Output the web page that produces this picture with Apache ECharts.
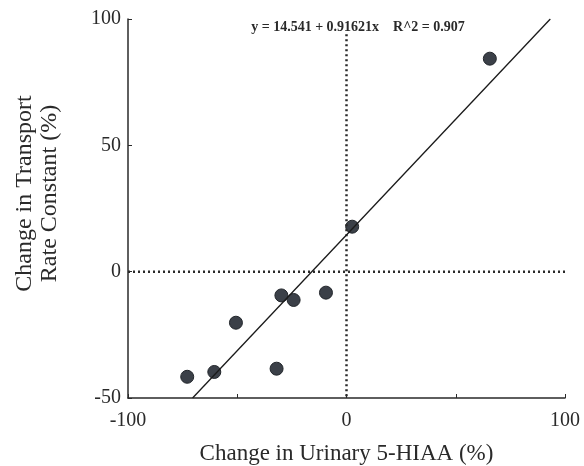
<!DOCTYPE html>
<html>
<head>
<meta charset="utf-8">
<script src="https://cdn.jsdelivr.net/npm/echarts@6/dist/echarts.min.js"></script>
<style>
  html, body { margin: 0; padding: 0; background: #fff; }
  #chart { width: 584px; height: 466px; }
</style>
</head>
<body>
<div id="chart"></div>
<script>
  // data
  var xValues = [65.6, 2.6, -29.8, -24.2, -9.4, -50.6, -60.5, -72.9, -32.0];
  var yValues = [84.3, 17.8, -9.4, -11.2, -8.3, -20.2, -39.7, -41.6, -38.4];
  var fitIntercept = 14.541;
  var fitSlope = 0.91621;
  var fitLabel = 'y = 14.541 + 0.91621x    R^2 = 0.907';
  var xTicks = [-100, 0, 100];
  var yTicks = [-50, 0, 50, 100];

  var points = xValues.map(function (x, i) { return [x, yValues[i]]; });
  // fit line drawn over the y range of the axis
  var yMin = -50, yMax = 100;
  var fitLine = [
    [(yMin - fitIntercept) / fitSlope, yMin],
    [(yMax - fitIntercept) / fitSlope, yMax]
  ];

  var serif = '"Liberation Serif", "DejaVu Serif", serif';
  var ink = '#2a2a2a';

  var chart = echarts.init(document.getElementById('chart'));
  chart.setOption({
    animation: false,
    backgroundColor: '#fff',
    grid: { left: 128, right: 19, top: 19, bottom: 68, outerBoundsMode: 'none', containLabel: false },
    title: {
      text: fitLabel,
      left: 353,
      top: 15,
      textAlign: 'center',
      textStyle: { fontFamily: serif, fontSize: 14, fontWeight: 'bold', color: ink }
    },
    xAxis: {
      type: 'value',
      min: -100, max: 100, interval: 50,
      name: 'Change in Urinary 5-HIAA (%)',
      nameLocation: 'middle',
      nameGap: 44,
      nameTextStyle: { fontFamily: serif, fontSize: 23, color: ink },
      axisLine: { onZero: false, lineStyle: { color: ink, width: 1.5 } },
      axisTick: { inside: true, length: 4, lineStyle: { color: ink } },
      splitLine: { show: false },
      axisLabel: {
        fontFamily: serif, fontSize: 20, color: ink, margin: 13,
        formatter: function (v) { return xTicks.indexOf(v) >= 0 ? String(v) : ''; }
      }
    },
    yAxis: {
      type: 'value',
      min: -50, max: 100, interval: 50,
      name: 'Change in Transport\nRate Constant (%)',
      nameLocation: 'middle',
      nameGap: 66,
      nameTextStyle: { fontFamily: serif, fontSize: 24, color: ink, lineHeight: 25, padding: [0, 0, 0, 30] },
      axisLine: { show: true, onZero: false, lineStyle: { color: ink, width: 1.5 } },
      axisTick: { inside: true, length: 4, lineStyle: { color: ink } },
      splitLine: { show: false },
      axisLabel: {
        fontFamily: serif, fontSize: 20, color: ink, margin: 7,
        formatter: function (v) { return yTicks.indexOf(v) >= 0 ? String(v) : ''; }
      }
    },
    series: [
      {
        type: 'line',
        data: [[0, 94], [0, -50]],
        symbol: 'none',
        lineStyle: { color: ink, width: 2.5, type: [2, 3] },
        silent: true
      },
      {
        type: 'line',
        data: [[-100, 0], [109, 0]],
        clip: false,
        symbol: 'none',
        lineStyle: { color: ink, width: 2.5, type: [2, 3] },
        silent: true
      },
      {
        type: 'line',
        data: fitLine,
        symbol: 'none',
        lineStyle: { color: '#1a1a1a', width: 1.3 },
        silent: true
      },
      {
        type: 'scatter',
        data: points,
        symbolSize: 13,
        itemStyle: { color: '#3b4048', borderColor: '#22262b', borderWidth: 1, opacity: 1 }
      }
    ]
  });
</script>
</body>
</html>
